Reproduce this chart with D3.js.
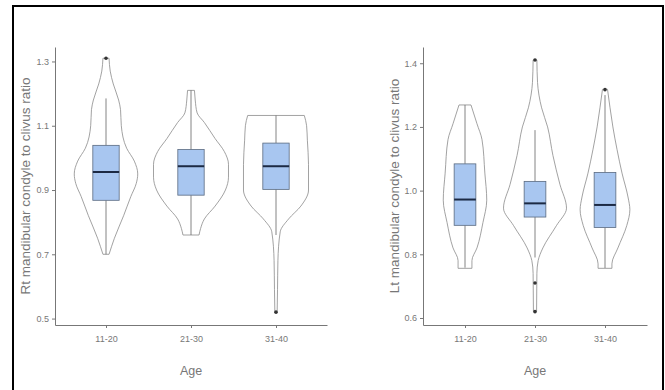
<!DOCTYPE html>
<html>
<head>
<meta charset="utf-8">
<script src="https://cdn.jsdelivr.net/npm/d3@7/dist/d3.min.js"></script>
<style>
  html, body { margin: 0; padding: 0; background: #fff; }
  svg { display: block; font-family: "Liberation Sans", Arial, sans-serif; }
</style>
</head>
<body>
<svg id="chart" width="665" height="390"></svg>
<script>
// ---- data ----
const ages = ["11-20", "21-30", "31-40"];
const rtTicks = [0.5, 0.7, 0.9, 1.1, 1.3];
const ltTicks = [0.6, 0.8, 1.0, 1.2, 1.4];

// box statistics [whiskerLow, q1, median, q3, whiskerHigh]
const rtBox = [
  [0.70, 0.868, 0.956, 1.039, 1.185],
  [0.76, 0.884, 0.974, 1.026, 1.21],
  [0.76, 0.902, 0.974, 1.046, 1.132]
];
const ltBox = [
  [0.758, 0.891, 0.972, 1.084, 1.269],
  [0.79, 0.917, 0.960, 1.029, 1.19],
  [0.757, 0.884, 0.955, 1.057, 1.30]
];
const rtOutliers = [[1.31], [], [0.52]];
const ltOutliers = [[], [1.41, 0.71, 0.62], [1.317]];

// violin density profiles [value, relative density]
const rtViolin = [
  [[1.31,0.08],[1.27,0.11],[1.23,0.19],[1.18,0.33],[1.15,0.38],[1.10,0.40],[1.03,0.54],[0.99,0.74],[0.95,0.83],[0.92,0.79],[0.88,0.65],[0.82,0.46],[0.75,0.22],[0.70,0.08]],
  [[1.21,0.09],[1.18,0.11],[1.14,0.16],[1.11,0.35],[1.06,0.63],[1.02,0.87],[0.98,0.98],[0.94,0.98],[0.90,0.90],[0.85,0.63],[0.81,0.35],[0.78,0.25],[0.76,0.21]],
  [[1.132,0.74],[1.10,0.80],[1.055,0.82],[0.98,0.85],[0.90,0.85],[0.85,0.65],[0.81,0.33],[0.77,0.11],[0.68,0.05],[0.59,0.04],[0.52,0.03]]
];
const ltViolin = [
  [[1.269,0.19],[1.21,0.38],[1.16,0.54],[1.055,0.63],[0.97,0.69],[0.90,0.57],[0.82,0.38],[0.78,0.22],[0.756,0.22]],
  [[1.41,0.06],[1.34,0.08],[1.26,0.21],[1.20,0.40],[1.11,0.57],[1.02,0.79],[0.945,1.0],[0.89,0.68],[0.82,0.25],[0.78,0.10],[0.74,0.06],[0.62,0.05]],
  [[1.318,0.08],[1.26,0.16],[1.20,0.25],[1.13,0.38],[1.055,0.54],[0.98,0.73],[0.94,0.79],[0.89,0.69],[0.82,0.41],[0.77,0.22],[0.756,0.22]]
];

const svg = d3.select("#chart");

// outer frame
svg.append("rect").attr("x", 13).attr("y", 6).attr("width", 650).attr("height", 420)
  .attr("fill", "none").attr("stroke", "#000").attr("stroke-width", 2);

function panel(opts) {
  const g = svg.append("g");
  const x = d3.scalePoint().domain(ages).range([opts.x0, opts.x1]).padding(0.6);
  const y = d3.scaleLinear().domain(opts.domain).range([325, 47]);
  const step = x.step();
  const wScale = d3.scaleLinear().domain([0, 1]).range([0, 0.45 * step]);
  const boxW = 0.31 * step;

  // y axis
  const ya = g.append("g").attr("transform", `translate(${opts.x0},0)`)
    .call(d3.axisLeft(y).tickValues(opts.ticks).tickFormat(d3.format(".1f")).tickSize(3).tickSizeOuter(0));
  // x axis
  const xa = g.append("g").attr("transform", `translate(0,325)`)
    .call(d3.axisBottom(x).tickSize(3).tickSizeOuter(0).tickPadding(6));
  [ya, xa].forEach(a => {
    a.select(".domain").attr("stroke", "#777").attr("stroke-width", 1);
    a.selectAll(".tick line").attr("stroke", "#777");
    a.selectAll(".tick text").attr("fill", "#777").attr("font-size", 9);
  });
  xa.selectAll(".tick text").attr("dy", "0.9em");

  // axis titles
  g.append("text").attr("transform", `translate(${opts.titleX},186) rotate(-90)`)
    .attr("text-anchor", "middle").attr("font-size", 13.5).attr("fill", "#777")
    .text(opts.title);
  g.append("text").attr("x", (opts.x0 + opts.x1) / 2).attr("y", 375)
    .attr("text-anchor", "middle").attr("font-size", 12.5).attr("fill", "#777")
    .text("Age");

  ages.forEach((a, i) => {
    const cx = x(a);
    const prof = opts.violin[i].slice().sort((p, q) => q[0] - p[0]);
    const area = d3.area()
      .y(d => y(d[0]))
      .x0(d => cx - wScale(d[1]))
      .x1(d => cx + wScale(d[1]))
      .curve(d3.curveMonotoneY);
    g.append("path").attr("d", area(prof))
      .attr("fill", "#fff").attr("stroke", "#8a8a8a").attr("stroke-width", 0.8);

    const b = opts.box[i];
    // whiskers
    g.append("line").attr("x1", cx).attr("x2", cx).attr("y1", y(b[3])).attr("y2", y(b[4]))
      .attr("stroke", "#666").attr("stroke-width", 0.8);
    g.append("line").attr("x1", cx).attr("x2", cx).attr("y1", y(b[1])).attr("y2", y(b[0]))
      .attr("stroke", "#666").attr("stroke-width", 0.8);
    // box
    g.append("rect").attr("x", cx - boxW / 2).attr("width", boxW)
      .attr("y", y(b[3])).attr("height", y(b[1]) - y(b[3]))
      .attr("fill", "#a8c6f0").attr("stroke", "#5a6a80").attr("stroke-width", 0.8);
    // median
    g.append("line").attr("x1", cx - boxW / 2).attr("x2", cx + boxW / 2)
      .attr("y1", y(b[2])).attr("y2", y(b[2]))
      .attr("stroke", "#1c2a44").attr("stroke-width", 2);
    // outliers
    opts.outliers[i].forEach(v => {
      g.append("circle").attr("cx", cx).attr("cy", y(v)).attr("r", 1.8).attr("fill", "#333");
    });
  });
}

panel({ x0: 55, x1: 327, domain: [0.48, 1.345], ticks: rtTicks, box: rtBox, violin: rtViolin,
        outliers: rtOutliers, title: "Rt mandibular condyle to clivus ratio", titleX: 30 });
panel({ x0: 423, x1: 647, domain: [0.578, 1.451], ticks: ltTicks, box: ltBox, violin: ltViolin,
        outliers: ltOutliers, title: "Lt mandibular condyle to clivus ratio", titleX: 399 });
</script>
</body>
</html>
